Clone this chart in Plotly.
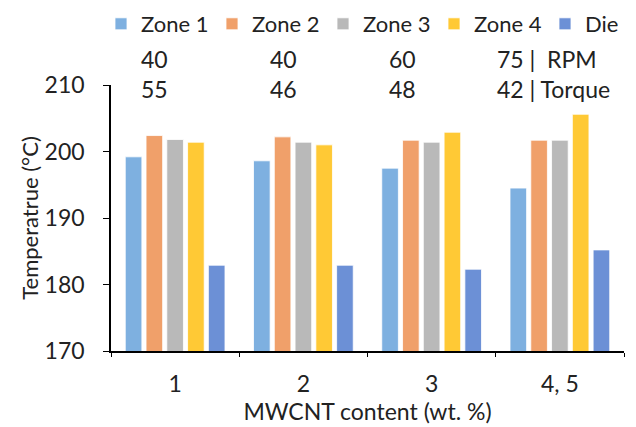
import plotly.graph_objects as go

categories = ["1", "2", "3", "4, 5"]
series_names = ["Zone 1", "Zone 2", "Zone 3", "Zone 4", "Die"]
zone1 = [199.2, 198.6, 197.5, 194.5]
zone2 = [202.4, 202.2, 201.7, 201.7]
zone3 = [201.8, 201.4, 201.4, 201.7]
zone4 = [201.4, 201.0, 202.9, 205.6]
die = [182.9, 182.9, 182.3, 185.2]
rpm = ["40", "40", "60", "75 |  RPM"]
torque = ["55", "46", "48", "42 | Torque"]
y_ticks = [170, 180, 190, 200, 210]

colors = ["#7EB0E0", "#F0A06A", "#B9B9B9", "#FFC935", "#6C90D6"]
legend_widths = [66, 66, 66, 66, 36]
FONT = "Lato, 'Open Sans', sans-serif"

fig = go.Figure()
for name, vals, c, lw in zip(series_names, [zone1, zone2, zone3, zone4, die], colors, legend_widths):
    fig.add_trace(go.Bar(x=categories, y=vals, name=name, legendwidth=lw,
                         marker=dict(color=c, line=dict(color="rgba(255,255,255,0.8)", width=1))))

W, H = 636, 427
ml, mr, mt, mb = 111, 12, 85, 76
pw, ph = W - ml - mr, H - mt - mb

fig.update_layout(
    width=W, height=H,
    margin=dict(l=ml, r=mr, t=mt, b=mb, autoexpand=False),
    paper_bgcolor="white", plot_bgcolor="white",
    font=dict(family=FONT, size=23, color="#222222"),
    barmode="group", bargap=0.19, bargroupgap=0.2,
    showlegend=True,
    legend=dict(orientation="h", x=(101 - ml) / pw, xanchor="left", xref="paper",
                y=(H - mb - 24) / ph, yanchor="middle", yref="paper",
                font=dict(size=22), itemwidth=30,
                bgcolor="rgba(0,0,0,0)"),
    xaxis=dict(type="category", showline=True, linecolor="black", linewidth=1.5,
               ticks="outside", tickson="boundaries", ticklen=4, tickcolor="black",
               tickfont=dict(size=23), ticklabelstandoff=12, automargin=False,
               title=dict(text="MWCNT content (wt. %)", font=dict(size=23), standoff=6)),
    yaxis=dict(range=[170, 210], tickvals=y_ticks, showline=True, linecolor="black",
               linewidth=1.5, ticks="outside", ticklen=6, tickcolor="black",
               showgrid=False, zeroline=False, tickfont=dict(size=23),
               ticklabelstandoff=14, automargin=False,
               title=dict(text="Temperatrue (°C)", font=dict(size=22), standoff=0)),
)

rpm_x = [154, 283, 402, 495]
anchors = ["center", "center", "center", "left"]
for i in range(4):
    fig.add_annotation(x=(rpm_x[i] - ml) / pw, y=(H - mb - 59) / ph, xref="paper", yref="paper",
                       text=rpm[i], showarrow=False, xanchor=anchors[i], yanchor="middle",
                       font=dict(size=23))
    fig.add_annotation(x=(rpm_x[i] - ml) / pw, y=(H - mb - 89) / ph, xref="paper", yref="paper",
                       text=torque[i], showarrow=False, xanchor=anchors[i], yanchor="middle",
                       font=dict(size=23))

fig.write_html("out.html", config={"displayModeBar": False},
               post_script="document.body.style.margin='0';document.body.style.overflow='hidden';")
